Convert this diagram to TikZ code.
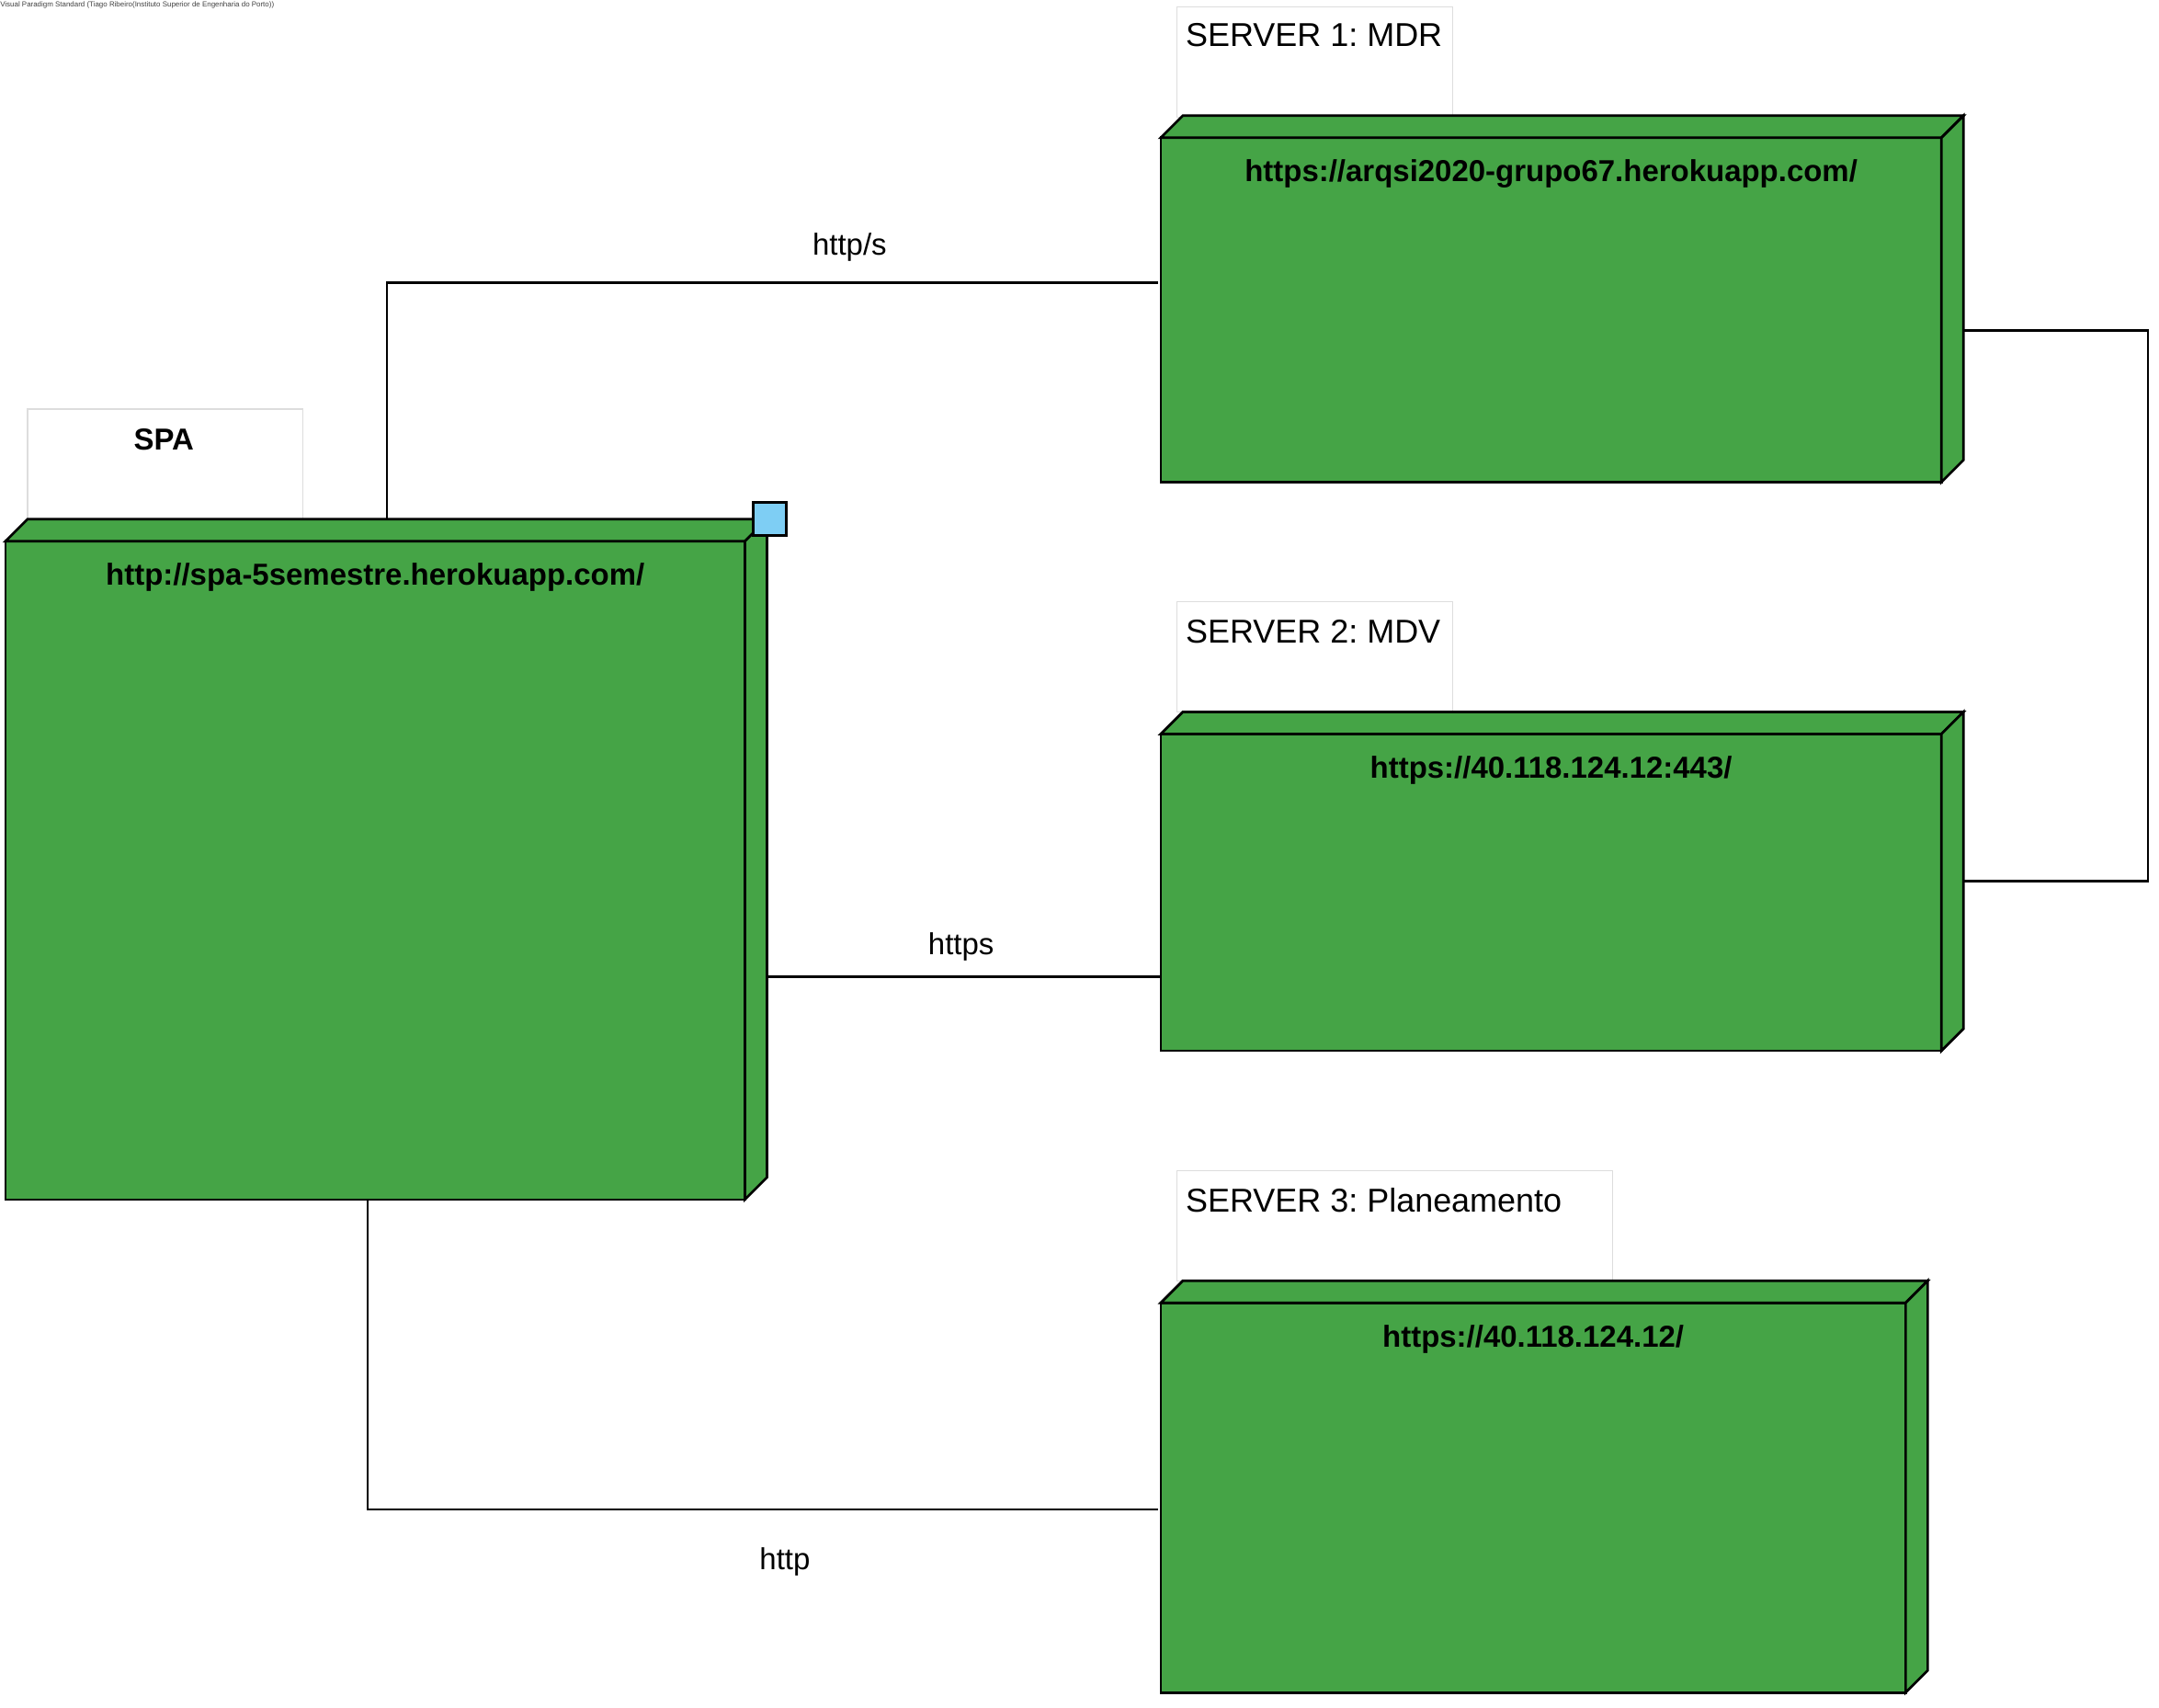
\documentclass[tikz,border=0pt]{standalone}
\usepackage{fontspec}
\setmainfont{Liberation Sans}
\usetikzlibrary{calc}
\frenchspacing
\definecolor{nodegreen}{RGB}{69,164,70}
\definecolor{portblue}{RGB}{126,206,244}
\definecolor{lblgray}{RGB}{221,221,221}
\newcommand{\depnode}[5]{%
  \node[front, minimum width=#4pt, minimum height=#5pt] (#1) at (#2,#3) {};
  \draw[face] (#1.north west) -- ++(16,-16) -- ++(#4,0) -- (#1.north east) -- cycle;
  \draw[face] (#1.north east) -- ++(16,-16) -- ($(#1.south east)+(16,-16)$) -- (#1.south east) -- cycle;
}
\begin{document}
\begin{tikzpicture}[x=1pt,y=-1pt,
  front/.style={draw, line width=1.8pt, fill=nodegreen, rectangle, inner sep=0pt, outer sep=0pt, anchor=north west},
  face/.style={draw, line width=1.8pt, fill=nodegreen, line join=miter},
  lblbox/.style={draw=lblgray, line width=0.8pt, fill=white, rectangle, inner sep=0pt, outer sep=0pt, anchor=north west, minimum height=80pt},
  conn/.style={draw, line width=1.9pt},
  txt/.style={font=\fontsize{22}{26}\selectfont, inner sep=0pt, anchor=base},
  urltxt/.style={font=\fontsize{22}{26}\selectfont\bfseries, inner sep=0pt, anchor=base},
  lbltxt/.style={font=\fontsize{24}{28}\selectfont, inner sep=0pt, anchor=base west},
  portbox/.style={draw, line width=1.8pt, fill=portblue, minimum size=24pt, inner sep=0pt, outer sep=0pt, anchor=north west}]
\useasboundingbox (0,0) rectangle (1568,1240);
\fill[white] (0,0) rectangle (1568,1240);

% watermark
\node[anchor=north west, inner sep=0pt, font=\fontsize{5.3}{6}\selectfont, text=black!75] (wm) at (0,1)
  {Visual Paradigm Standard (Tiago Ribeiro(Instituto Superior de Engenharia do Porto))};

% label boxes
\node[lblbox, minimum width=200pt] (spalbl) at (20,297) {};
\node[lblbox, minimum width=200pt] (s1lbl) at (855,5) {};
\node[lblbox, minimum width=200pt] (s2lbl) at (855,437) {};
\node[lblbox, minimum width=316pt] (s3lbl) at (855,850) {};

\node[urltxt] (spaname) at (119,327) {SPA};
\node[lbltxt] (s1name) at (861,34) {SERVER 1: MDR};
\node[lbltxt] (s2name) at (861,467) {SERVER 2: MDV};
\node[lbltxt] (s3name) at (861,880) {SERVER 3: Planeamento};

% deployment nodes
\depnode{spa}{4}{393}{537}{478}
\depnode{s1}{843}{100}{567}{250}
\depnode{s2}{843}{533}{567}{230}
\depnode{s3}{843}{946}{541}{283}

\node[portbox] (port) at (547,365) {};

\node[urltxt] (spaurl) at (272.5,425) {http://spa-5semestre.herokuapp.com/};
\node[urltxt] (s1url) at (1126.5,132) {https://arqsi2020-grupo67.herokuapp.com/};
\node[urltxt] (s2url) at (1126.5,565) {https://40.118.124.12:443/};
\node[urltxt] (s3url) at (1113.5,978) {https://40.118.124.12/};

% connectors
\draw[conn] ($(spa.north west)+(277,-16)$) |- ($(s1.west)+(-2,-20)$);
\draw[conn] ($(spa.north east)+(16,316)$) coordinate (h1) -- (h1 -| s2.west);
\draw[conn] ($(spa.south west)+(263,0)$) |- ($(s3.west)+(-2,8.5)$);
\draw[conn] ($(s1.east)+(16,15)$) -- ++(134,0) |- ($(s2.east)+(16,-8)$);

\node[txt] (c1) at (617,185) {http/s};
\node[txt] (c2) at (698,693) {https};
\node[txt] (c3) at (570,1140) {http};
\end{tikzpicture}
\end{document}
